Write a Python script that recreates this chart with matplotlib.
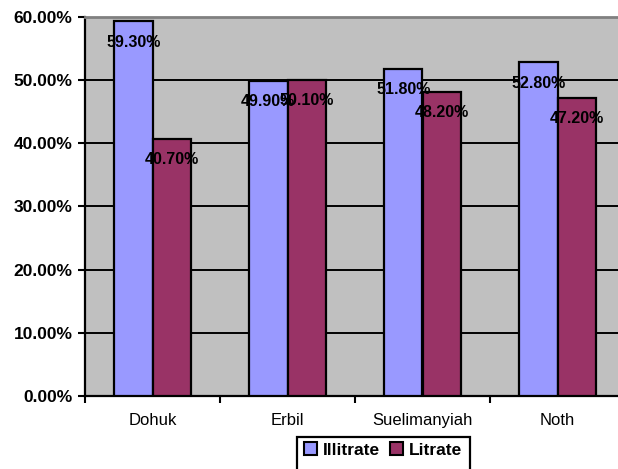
import matplotlib
matplotlib.use("Agg")
import matplotlib.pyplot as plt
import numpy as np
from matplotlib.ticker import FuncFormatter, MultipleLocator, FixedLocator
from matplotlib.patches import Patch, Rectangle

plt.rcParams['font.family'] = ['Liberation Sans', 'DejaVu Sans']

categories = ["Dohuk", "Erbil", "Suelimanyiah", "Noth"]
illitrate = [59.30, 49.90, 51.80, 52.80]
litrate = [40.70, 50.10, 48.20, 47.20]
series_names = ["Illitrate", "Litrate"]
colors = ["#9999FF", "#993366"]

W, H = 618, 469
fig = plt.figure(figsize=(W / 100, H / 100), dpi=100)
ax = fig.add_axes([85 / W, 1 - 396 / H, 540 / W, 379 / H])
ax.set_facecolor("#C0C0C0")

x = np.arange(len(categories))
w = 0.285
for i, (vals, col) in enumerate(zip([illitrate, litrate], colors)):
    pos = x + (i - 0.5) * w
    ax.bar(pos, vals, width=w, color=col, edgecolor="black",
           linewidth=1.6, zorder=3)
    for xp, v in zip(pos, vals):
        ax.annotate(f"{v:.2f}%", (xp, v), xytext=(0, -15),
                    textcoords="offset points", ha="center", va="center",
                    fontsize=11.5, fontweight="bold", color="black", zorder=5)

ax.set_xlim(-0.5, len(categories) - 0.5)
ax.set_ylim(0, 60)
ax.yaxis.set_major_locator(MultipleLocator(10))
ax.yaxis.set_major_formatter(FuncFormatter(lambda v, p: f"{v:.2f}%"))
ax.grid(axis="y", color="black", linewidth=1.4, zorder=1)
ax.set_axisbelow(True)

ax.set_xticks(x)
ax.set_xticklabels(categories, fontsize=12)
ax.tick_params(axis="x", length=0, pad=12)
ax.xaxis.set_minor_locator(FixedLocator(np.arange(-0.5, len(categories), 1.0)))
ax.tick_params(axis="x", which="minor", length=5, width=1.5, direction="out")
ax.tick_params(axis="y", length=5, width=1.5, direction="out", pad=4)
for lab in ax.get_yticklabels():
    lab.set_fontweight("bold")
    lab.set_fontsize(12.5)

ax.spines["left"].set_linewidth(1.6)
ax.spines["bottom"].set_linewidth(1.6)
ax.spines["top"].set_color("#808080")
ax.spines["top"].set_linewidth(2)
ax.spines["right"].set_visible(False)

# Legend entries without their own frame; the box is drawn separately
handles = [Patch(facecolor=c, edgecolor="black", linewidth=1.5) for c in colors]
leg = fig.legend(handles, series_names, loc="center",
                 bbox_to_anchor=(383 / W, 1 - 450 / H), ncol=2,
                 frameon=False, handlelength=0.75,
                 handleheight=0.75, handletextpad=0.3, columnspacing=0.6,
                 borderpad=0.0, prop={"weight": "bold", "size": 12.5})
box = Rectangle((297 / W, 1 - 478 / H), 173 / W, 41 / H,
                transform=fig.transFigure, facecolor="white",
                edgecolor="black", linewidth=1.6, clip_on=False, zorder=0)
fig.add_artist(box)
leg.set_zorder(2)

fig.savefig("out.png", dpi=100)
